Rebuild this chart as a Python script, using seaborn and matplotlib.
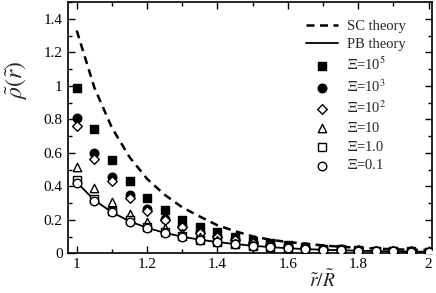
import numpy as np
import pandas as pd
import matplotlib
matplotlib.use("Agg")
import matplotlib.pyplot as plt
from matplotlib.ticker import MultipleLocator, FuncFormatter
import seaborn as sns

# radial positions r/R
r = [1.00, 1.05, 1.10, 1.15, 1.20, 1.25, 1.30, 1.35, 1.40, 1.45, 1.50,
     1.55, 1.60, 1.65, 1.70, 1.75, 1.80, 1.85, 1.90, 1.95, 2.00]

# theory curves
sc_theory = [1.33, 0.99, 0.75, 0.575, 0.445, 0.35, 0.275, 0.22, 0.168, 0.133, 0.102,
             0.082, 0.068, 0.058, 0.048, 0.040, 0.034, 0.029, 0.025, 0.022, 0.020]
pb_theory = [0.425, 0.318, 0.246, 0.192, 0.153, 0.123, 0.100, 0.082, 0.068, 0.056, 0.046,
             0.038, 0.031, 0.026, 0.022, 0.019, 0.016, 0.014, 0.012, 0.011, 0.010]

# simulation data for each coupling parameter
xi_1e5 = [0.99, 0.74, 0.555, 0.43, 0.33, 0.26, 0.20, 0.158, 0.125, 0.097, 0.076,
          0.060, 0.048, 0.037, 0.029, 0.024, 0.020, 0.017, 0.014, 0.012, 0.011]
xi_1e3 = [0.81, 0.60, 0.456, 0.347, 0.268, 0.208, 0.165, 0.130, 0.105, 0.085, 0.068,
          0.055, 0.045, 0.036, 0.029, 0.024, 0.020, 0.017, 0.014, 0.012, 0.011]
xi_1e2 = [0.76, 0.565, 0.43, 0.333, 0.252, 0.198, 0.155, 0.122, 0.098, 0.078, 0.063,
          0.051, 0.041, 0.033, 0.027, 0.022, 0.019, 0.016, 0.013, 0.012, 0.010]
xi_10 = [0.515, 0.393, 0.304, 0.238, 0.188, 0.152, 0.122, 0.098, 0.080, 0.065, 0.053,
         0.043, 0.035, 0.029, 0.024, 0.020, 0.017, 0.014, 0.012, 0.011, 0.010]
xi_1 = [0.44, 0.327, 0.252, 0.198, 0.160, 0.127, 0.102, 0.083, 0.069, 0.057, 0.047,
        0.039, 0.032, 0.027, 0.023, 0.019, 0.016, 0.014, 0.012, 0.011, 0.010]
xi_01 = [0.42, 0.315, 0.245, 0.19, 0.152, 0.122, 0.100, 0.081, 0.068, 0.056, 0.046,
         0.038, 0.031, 0.026, 0.022, 0.019, 0.016, 0.014, 0.012, 0.011, 0.010]

sns.set_style("ticks")
plt.rcParams['font.family'] = ['Liberation Serif', 'DejaVu Serif']
plt.rcParams['mathtext.fontset'] = 'stix'

fig = plt.figure(figsize=(4.36, 2.93), dpi=100)
ax = fig.add_axes([0.155, 0.135, 0.836, 0.858])

sns.lineplot(x=r, y=sc_theory, ax=ax, color='black', lw=1.8,
             linestyle=(0, (3.2, 2.2)), label='SC theory')
sns.lineplot(x=r, y=pb_theory, ax=ax, color='black', lw=1.3, label='PB theory')

series = [
    (xi_1e5, 's', 'black', r'$\Xi$=10$^5$', 32),
    (xi_1e3, 'o', 'black', r'$\Xi$=10$^3$', 38),
    (xi_1e2, 'D', 'white', r'$\Xi$=10$^2$', 24),
    (xi_10, '^', 'white', r'$\Xi$=10', 36),
    (xi_1, 's', 'white', r'$\Xi$=1.0', 32),
    (xi_01, 'o', 'white', r'$\Xi$=0.1', 38),
]
for vals, mk, fc, lab, s in series:
    sns.scatterplot(x=r, y=vals, ax=ax, marker=mk, color=fc, edgecolor='black',
                    linewidth=1.0, s=s, label=lab, zorder=3)

ax.set_xlim(0.974, 2.01)
ax.set_ylim(0, 1.5)
ax.xaxis.set_major_locator(MultipleLocator(0.2))
ax.xaxis.set_minor_locator(MultipleLocator(0.1))
ax.yaxis.set_major_locator(MultipleLocator(0.2))
ax.yaxis.set_minor_locator(MultipleLocator(0.1))
fmt = FuncFormatter(lambda v, p: '%g' % round(v, 2))
ax.xaxis.set_major_formatter(fmt)
ax.yaxis.set_major_formatter(fmt)
ax.tick_params(which='both', direction='in', top=True, right=True, labelsize=11,
               width=1.0, colors='black')
ax.tick_params(which='major', length=5)
ax.tick_params(which='minor', length=3)
for sp in ax.spines.values():
    sp.set_linewidth(1.2)
    sp.set_color('black')

ax.set_xlabel(r'$\tilde{r}/\tilde{R}$', fontsize=14)
ax.xaxis.set_label_coords(0.70, -0.065)
ax.set_ylabel(r'$\tilde{\rho}(\tilde{r})$', fontsize=17)
ax.yaxis.set_label_coords(-0.105, 0.69)

leg = ax.legend(loc='upper right', bbox_to_anchor=(0.955, 0.97), frameon=False,
                fontsize=10.5, handlelength=2.2, labelspacing=0.33,
                handletextpad=0.6, borderaxespad=0.3)

fig.savefig('out.png', dpi=100)
